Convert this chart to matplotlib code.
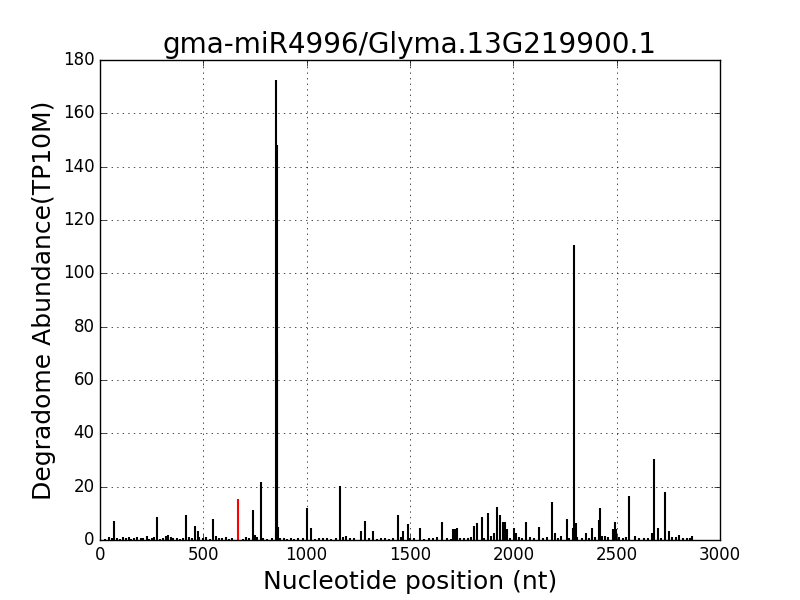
import matplotlib
matplotlib.use('Agg')
import matplotlib.pyplot as plt

# main degradome peaks (position nt, abundance TP10M)
peak_pos = [68, 277, 416, 460, 474, 547, 740, 779, 851, 853, 855, 858, 860,
            1002, 1023, 1161, 1264, 1282, 1321, 1442, 1466, 1489, 1548, 1655,
            1708, 1718, 1727, 1810, 1824, 1848, 1877, 1908, 1923, 1937, 1951,
            1961, 1969, 2002, 2012, 2063, 2126, 2187, 2203, 2258, 2287, 2295,
            2302, 2353, 2382, 2415, 2419, 2484, 2492, 2497, 2561, 2590, 2670,
            2682, 2702, 2736, 2755, 2803, 2863]
peak_val = [7.1, 8.5, 9.4, 5.2, 3.4, 7.9, 11.2, 21.7, 3, 172.5, 148, 70, 5,
            12, 4.4, 20.4, 3.4, 7.1, 3.4, 9.4, 3.4, 5.9, 4.4, 6.6,
            4, 4, 4.4, 5.2, 6.5, 8.5, 10.2, 2.6, 12.2, 9.2, 6.9,
            6.6, 4, 4.6, 2.5, 6.9, 5, 14.4, 2.7, 7.7, 4.4, 110.8,
            6.5, 2.7, 4.4, 7.5, 11.9, 4, 6.6, 4, 16.5, 1.5, 2.5,
            30.4, 4.4, 17.9, 3.3, 1.9, 1.5]

# low background reads
small_pos = [22, 45, 58, 80, 95, 110, 128, 140, 152, 165, 180, 196, 210, 225,
             238, 250, 262, 290, 305, 318, 330, 342, 355, 372, 388, 400, 430,
             445, 480, 500, 515, 530, 560, 575, 590, 610, 625, 640, 690, 705,
             720, 750, 760, 790, 810, 830, 870, 890, 905, 925, 940, 960, 980,
             1040, 1060, 1080, 1100, 1120, 1140, 1175, 1190, 1210, 1230, 1300,
             1340, 1360, 1380, 1400, 1420, 1455, 1500, 1520, 1570, 1590, 1610,
             1630, 1680, 1700, 1740, 1760, 1780, 1795, 1860, 1890, 1985, 2025,
             2040, 2080, 2100, 2145, 2165, 2215, 2230, 2270, 2310, 2330, 2365,
             2395, 2430, 2445, 2460, 2510, 2530, 2545, 2610, 2630, 2650, 2715,
             2770, 2785, 2820, 2840, 2855]
small_val = [0.5, 1.2, 0.6, 0.8, 0.4, 1.0, 0.7, 1.3, 0.5, 0.9, 1.1, 0.6, 0.8, 1.4,
             0.5, 0.7, 1.0, 0.4, 0.9, 1.5, 1.8, 1.2, 0.6, 0.8, 0.5, 0.9, 1.0,
             0.6, 1.1, 0.7, 1.3, 0.5, 1.4, 0.8, 0.6, 1.0, 0.5, 0.9, 0.4, 1.2,
             0.6, 1.7, 1.3, 0.8, 0.5, 0.7, 0.6, 0.9, 0.5, 0.7, 0.4, 0.6, 0.8,
             0.5, 0.7, 0.9, 0.6, 0.5, 0.8, 1.2, 1.5, 0.6, 0.7, 0.9,
             0.5, 0.6, 0.8, 0.4, 0.7, 1.1, 0.6, 0.9, 0.5, 0.8, 0.6,
             1.0, 0.7, 0.5, 0.9, 0.6, 0.8, 1.1, 0.7, 1.4, 0.9, 1.2,
             0.8, 1.0, 0.6, 0.9, 1.3, 0.7, 1.5, 0.8, 1.2, 0.9, 0.6,
             1.1, 1.4, 1.6, 1.3, 1.0, 0.8, 1.2, 0.7, 0.9, 0.6, 0.8,
             1.0, 1.3, 0.9, 0.7, 0.8]

# cleavage site of the miRNA
target_pos = [666]
target_val = [15.4]

plt.style.use('classic')
fig = plt.figure(figsize=(8, 6), dpi=100, facecolor='white')
ax = fig.add_axes([0.125, 0.1, 0.775, 0.8])

ax.vlines(small_pos, 0, small_val, colors='black', linewidth=1.5)
ax.vlines(peak_pos, 0, peak_val, colors='black', linewidth=1.5)
ax.vlines(target_pos, 0, target_val, colors='red', linewidth=1.5)

ax.set_xlim(0, 3000)
ax.set_ylim(0, 180)
ax.set_xticks(range(0, 3001, 500))
ax.set_yticks(range(0, 181, 20))
ax.grid(True)
ax.set_title('gma-miR4996/Glyma.13G219900.1', fontsize=20)
ax.set_xlabel('Nucleotide position (nt)', fontsize=18)
ax.set_ylabel('Degradome Abundance(TP10M)', fontsize=18)

fig.savefig('out.png', dpi=100, facecolor='white')
